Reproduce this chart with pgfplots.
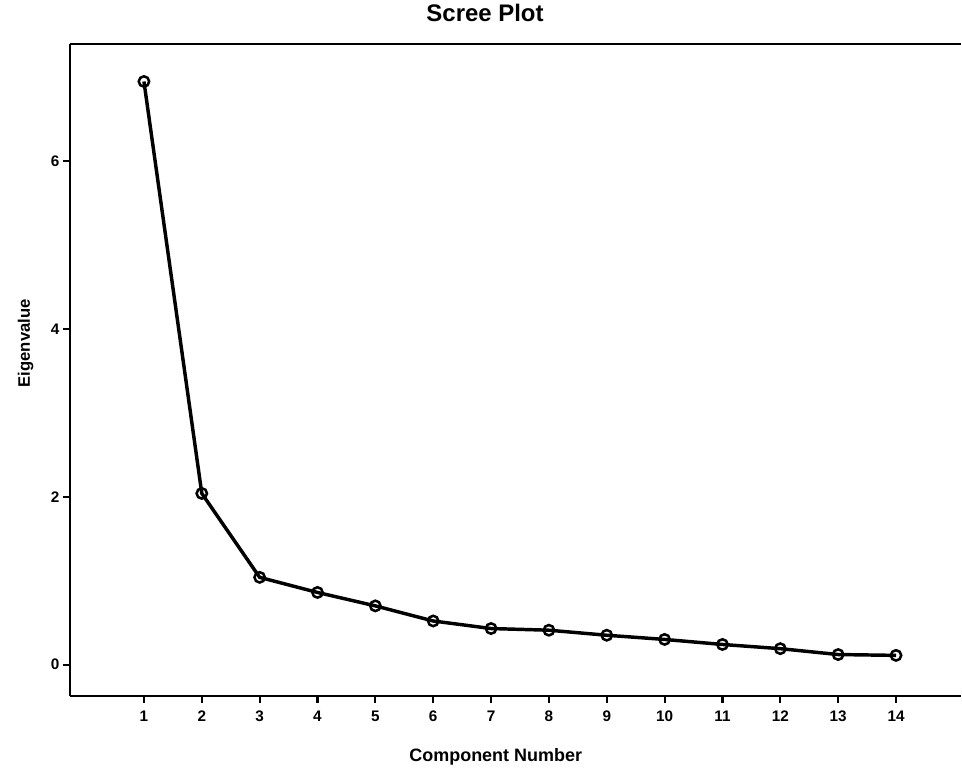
\documentclass[border=0pt]{standalone}
\usepackage{pgfplots}
\pgfplotsset{compat=1.18}
\usepackage{fontspec}
\setmainfont{Liberation Sans}
\begin{document}
\begin{tikzpicture}
\begin{axis}[
  scale only axis,
  width=669.75pt, height=490.5pt,
  xmin=-0.281, xmax=15.12,
  ymin=-0.377, ymax=7.40,
  axis x line=box, axis y line=left,
  axis line style={-, line width=1.8pt, black},
  xtick={1,2,...,14}, ytick={0,2,4,6},
  xtick pos=lower, ytick pos=left,
  tick align=outside,
  major tick length=5.25pt,
  every tick/.style={black, line width=1.6pt},
  /pgf/number format/assume math mode=true,
  ticklabel style={font=\fontsize{11.5}{13}\selectfont\bfseries},
  xticklabel style={yshift=-2pt},
  yticklabel style={xshift=1pt},
  title={Scree Plot},
  title style={at={(0.466,1)}, anchor=base, yshift=10.5pt, font=\fontsize{18}{20}\selectfont\bfseries},
  xlabel={Component Number},
  xlabel style={at={(0.478,0)}, anchor=base, yshift=-48.75pt, font=\fontsize{13.5}{15}\selectfont\bfseries},
  ylabel={Eigenvalue},
  ylabel style={at={(0,0.541)}, anchor=base, yshift=30pt, font=\fontsize{12.5}{14}\selectfont\bfseries},
  clip=false,
]
\addplot[black, line width=2.6pt, mark=o, mark size=3.9pt, mark options={line width=1.9pt, solid, fill=none}]
coordinates {
(1,6.95) (2,2.04) (3,1.04) (4,0.86) (5,0.70) (6,0.52) (7,0.43)
(8,0.41) (9,0.35) (10,0.30) (11,0.24) (12,0.19) (13,0.12) (14,0.11)
};
\end{axis}
\path (current axis.south west) ++(-52.5pt,-56.25pt) rectangle ++(721.5pt,577.5pt);
\end{tikzpicture}
\end{document}
